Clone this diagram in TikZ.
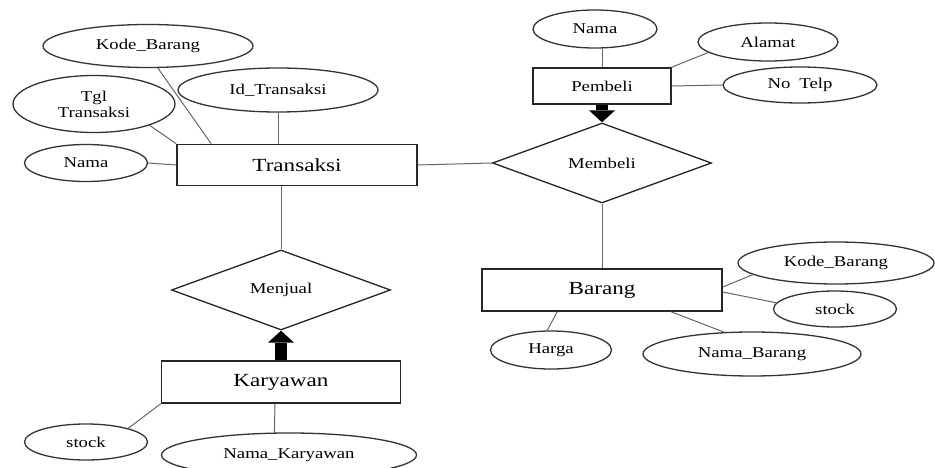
\documentclass[tikz,border=0pt]{standalone}
\usepackage{fontspec}
\setmainfont{Liberation Serif}[FakeStretch=1.25]
\usetikzlibrary{shapes.geometric,arrows.meta}

\begin{document}
\begin{tikzpicture}[x=1pt,y=-1pt,inner sep=0pt,
  entity/.style={rectangle,draw=black!85,line width=1.6pt},
  big/.style={font=\fontsize{18.5}{20}\selectfont},
  small/.style={font=\fontsize{15}{16}\selectfont},
  attr/.style={ellipse,draw=black!80,line width=1.3pt,small},
  rel/.style={diamond,draw=black!85,line width=1.3pt,small,minimum width=219pt,minimum height=80pt},
  link/.style={draw=black!60,line width=1pt},
  fat/.style={draw=black,line width=12pt,-{Triangle[width=26pt 0,length=12pt 0,line width=0pt 0]}}]
\useasboundingbox[fill=white] (0,0) rectangle (935,468);

\node[entity,big,minimum width=240pt,minimum height=41pt] (T) at (297,165) {Transaksi};
\node[entity,small,minimum width=138pt,minimum height=36pt] (P) at (602,86) {Pembeli};
\node[entity,big,minimum width=240pt,minimum height=42pt] (B) at (602,290) {Barang};
\node[entity,big,minimum width=239pt,minimum height=42pt] (K) at (281,382) {Karyawan};
\node[rel] (M) at (602,163) {Membeli};
\node[rel] (J) at (281,290) {Menjual};

\node[attr,minimum width=210pt,minimum height=43pt] (T1) at (148,46) {Kode\_Barang};
\node[attr,minimum width=162pt,minimum height=57pt,align=center] (T2) at (94,104) {Tgl\\Transaksi};
\node[attr,minimum width=200pt,minimum height=44pt] (T3) at (278,90) {Id\_Transaksi};
\node[attr,minimum width=123pt,minimum height=37pt] (T4) at (86,163) {Nama};
\node[attr,minimum width=124pt,minimum height=38pt] (P1) at (595,29) {Nama};
\node[attr,minimum width=140pt,minimum height=38pt] (P2) at (768,42) {Alamat};
\node[attr,minimum width=154pt,minimum height=36pt] (P3) at (800,85) {No\hspace{0.6em}Telp};
\node[attr,minimum width=196pt,minimum height=42pt] (B1) at (836,263) {Kode\_Barang};
\node[attr,minimum width=123pt,minimum height=36pt] (B2) at (835,309) {stock};
\node[attr,minimum width=121pt,minimum height=38pt] (B3) at (551,350) {Harga};
\node[attr,minimum width=218pt,minimum height=44pt] (B4) at (752,354) {Nama\_Barang};
\node[attr,minimum width=123pt,minimum height=36pt] (K1) at (86,442) {stock};
\node[attr,minimum width=255pt,minimum height=44pt] (K2) at (289,455) {Nama\_Karyawan};

\path (T1.-66) edge[link] ([xshift=35pt]T.north west);
\path (T2.-21) edge[link] (T.north west);
\path (T3.south) edge[link] (T3.south |- T.north);
\path (T4.east) edge[link] (T.west);
\path (T.east) edge[link] (M.west);
\path (T.south -| J.north) edge[link] (J.north);
\path (P.north |- P1.south) edge[link] (P.north);
\path (P.north east) edge[link] (P2.190);
\path (P.east) edge[link] (P3.west);
\path (M.south) edge[link] (B.north);
\path ([yshift=3pt]B.east) edge[link] (B1.188);
\path ([yshift=-2pt]B.east) edge[link] (B2.174);
\path ([xshift=76pt]B.south west) edge[link] (B3.101);
\path ([xshift=190pt]B.south west) edge[link] (B4.142);
\path (K.south west) edge[link] (K1.18);
\path ([xshift=-6pt]K.south) edge[link] (K2.123);

\path (P.south) edge[fat] (M.north);
\path (K.north) edge[fat] (J.south);
\end{tikzpicture}
\end{document}
